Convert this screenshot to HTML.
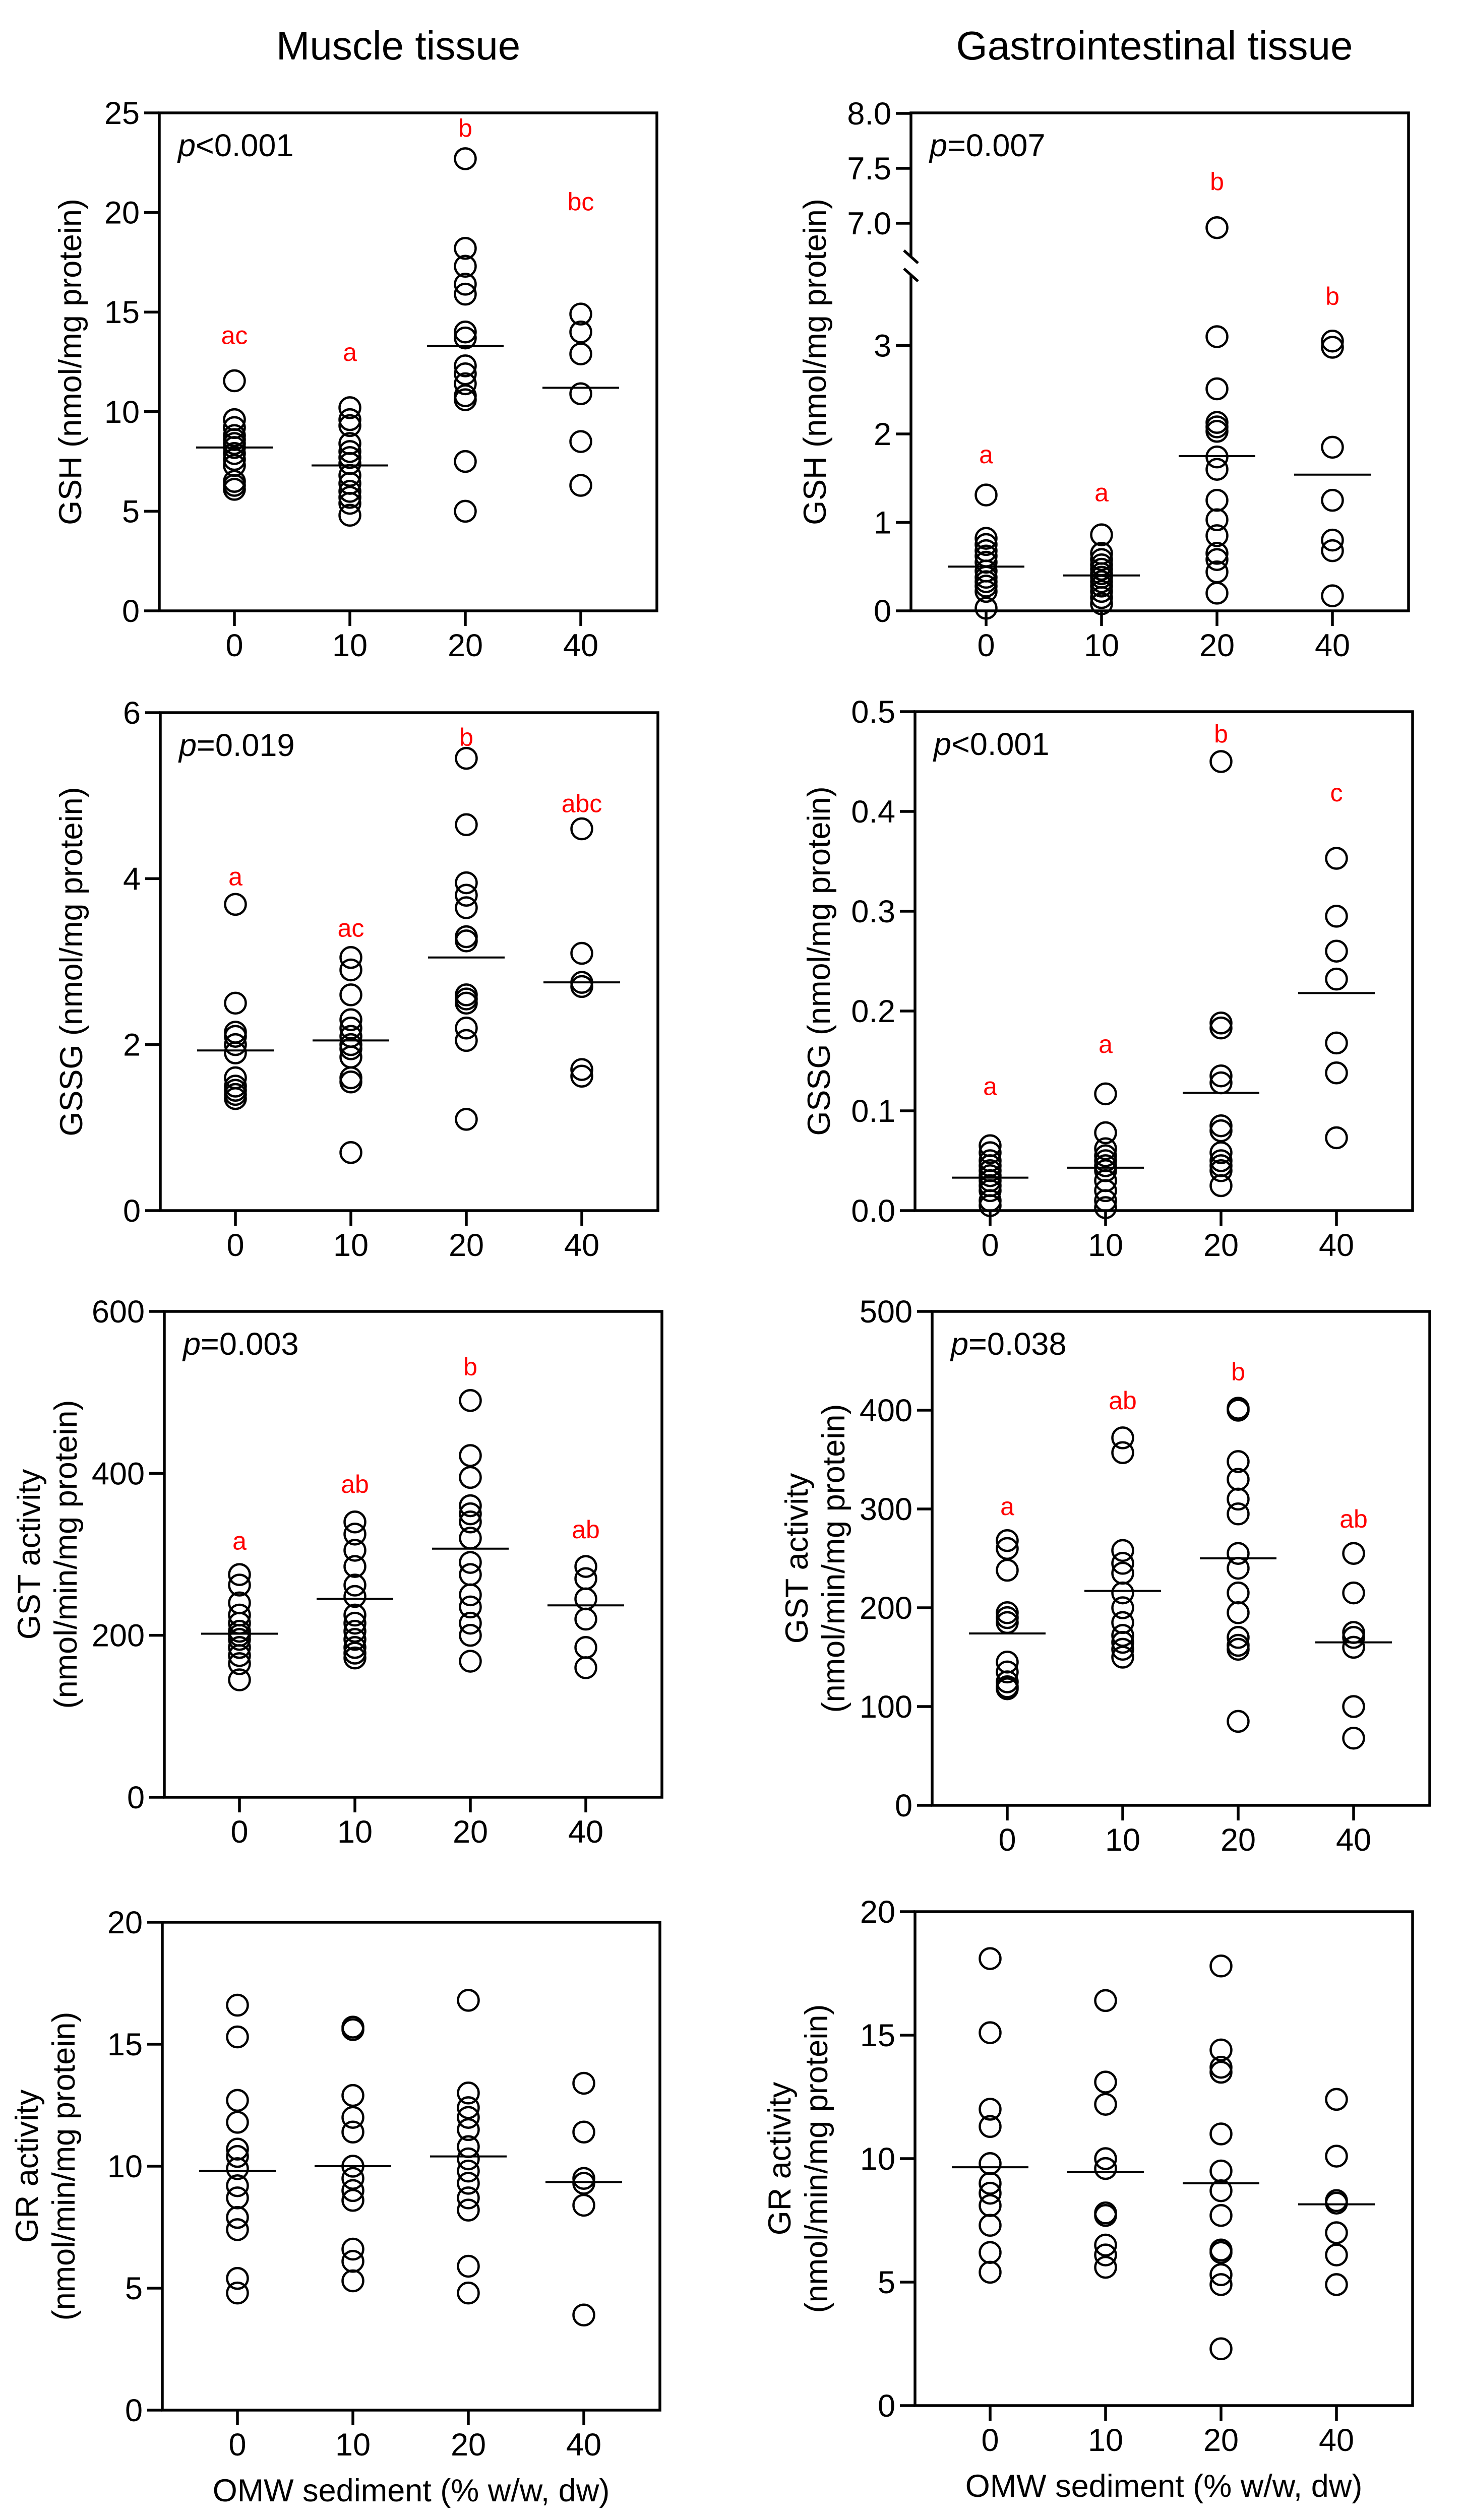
<!DOCTYPE html>
<html><head><meta charset="utf-8">
<style>
html,body{margin:0;padding:0;background:#fff;width:2902px;height:5026px;overflow:hidden;}
svg{display:block;position:absolute;left:0;top:0;}
text{font-family:"Liberation Sans",Arial,sans-serif;}
</style></head>
<body>
<svg id="fig" width="2902" height="5026" viewBox="0 0 2902 5026" xmlns="http://www.w3.org/2000/svg">
<rect x="0" y="0" width="2902" height="5026" fill="#fff"/>
<text x="790" y="118" font-size="80" text-anchor="middle">Muscle tissue</text>
<text x="2290" y="118" font-size="80" text-anchor="middle">Gastrointestinal tissue</text>
</svg>
<script>
const categories = ["0","10","20","40"];

// Muscle GSH
const muscleGshValues = [
 [11.55,9.6,9.2,8.8,8.6,8.4,8.2,7.9,7.6,7.3,6.5,6.3,6.1],
 [10.2,9.6,9.3,8.4,8.0,7.7,7.4,6.8,6.4,6.0,5.7,5.4,4.8],
 [22.7,18.2,17.3,16.4,15.9,14.0,13.7,12.3,11.9,11.4,10.8,10.6,7.5,5.0],
 [14.9,14.0,12.9,10.9,8.5,6.3]];
const muscleGshMeans = [8.2,7.3,13.3,11.2];
const muscleGshLetters = ["ac","a","b","bc"];
const muscleGshLetterAt = [13.4,12.55,23.8,20.1];
const muscleGshTicks = [0,5,10,15,20,25];

// GI GSH (broken axis)
const giGshValues = [
 [1.31,0.82,0.75,0.68,0.62,0.55,0.45,0.38,0.33,0.28,0.22,0.03],
 [0.86,0.65,0.58,0.52,0.47,0.42,0.38,0.33,0.28,0.22,0.15,0.08],
 [6.96,3.1,2.51,2.13,2.08,2.03,1.74,1.6,1.25,1.03,0.85,0.65,0.58,0.44,0.2],
 [3.05,2.98,1.85,1.25,0.8,0.68,0.17]];
const giGshMeans = [0.5,0.4,1.75,1.54];
const giGshLetters = ["a","a","b","b"];
const giGshLetterAt = [1.67,1.24,7.3,3.46];
const giGshTicks = ["0","1","2","3","7.0","7.5","8.0"];

// Muscle GSSG
const muscleGssgValues = [
 [3.69,2.5,2.15,2.1,2.0,1.9,1.6,1.5,1.45,1.4,1.35],
 [3.05,2.9,2.6,2.3,2.2,2.1,2.0,1.95,1.85,1.6,1.55,0.7],
 [5.45,4.65,3.95,3.8,3.65,3.3,3.25,2.6,2.55,2.5,2.2,2.05,1.1],
 [4.6,3.1,2.75,2.7,1.7,1.62]];
const muscleGssgMeans = [1.93,2.05,3.05,2.75];
const muscleGssgLetters = ["a","ac","b","abc"];
const muscleGssgLetterAt = [3.92,3.3,5.6,4.8];
const muscleGssgTicks = [0,2,4,6];

// GI GSSG
const giGssgValues = [
 [0.065,0.058,0.05,0.045,0.04,0.035,0.03,0.025,0.02,0.01,0.005],
 [0.117,0.078,0.062,0.055,0.05,0.045,0.04,0.03,0.02,0.01,0.003],
 [0.45,0.188,0.183,0.135,0.128,0.085,0.08,0.058,0.05,0.045,0.04,0.025],
 [0.353,0.295,0.26,0.232,0.168,0.138,0.073]];
const giGssgMeans = [0.033,0.043,0.118,0.218];
const giGssgLetters = ["a","a","b","c"];
const giGssgLetterAt = [0.116,0.158,0.469,0.41];
const giGssgTicks = ["0.0","0.1","0.2","0.3","0.4","0.5"];

// Muscle GST
const muscleGstValues = [
 [275,262,240,225,215,205,200,195,185,175,165,145],
 [340,325,305,285,262,248,225,215,205,195,185,178,172],
 [490,422,395,360,350,340,320,290,275,250,235,215,200,168],
 [285,270,245,220,185,160]];
const muscleGstMeans = [202,245,307,237];
const muscleGstLetters = ["a","ab","b","ab"];
const muscleGstLetterAt = [306,376,521,320];
const muscleGstTicks = [0,200,400,600];

// GI GST
const giGstValues = [
 [268,260,238,195,190,185,145,135,125,120,118],
 [372,357,258,245,235,215,200,185,172,165,158,150],
 [402,400,348,330,310,295,255,240,215,195,170,162,158,85],
 [255,215,175,170,160,100,68]];
const giGstMeans = [174,217,250,165];
const giGstLetters = ["a","ab","b","ab"];
const giGstLetterAt = [294,401,430,281];
const giGstTicks = [0,100,200,300,400,500];

// Muscle GR
const muscleGrValues = [
 [16.6,15.3,12.7,11.8,10.7,10.4,9.9,9.2,8.7,7.9,7.4,5.4,4.8],
 [15.7,15.6,12.9,12.0,11.4,10.0,9.5,9.0,8.6,6.6,6.1,5.3],
 [16.8,13.0,12.4,12.0,11.5,10.8,10.3,9.8,9.3,8.7,8.2,5.9,4.8],
 [13.4,11.4,9.5,9.3,8.4,3.9]];
const muscleGrMeans = [9.8,10.0,10.4,9.35];
const muscleGrTicks = [0,5,10,15,20];

// GI GR
const giGrValues = [
 [18.1,15.1,12.0,11.3,9.8,9.0,8.6,8.1,7.3,6.2,5.4],
 [16.4,13.1,12.2,10.0,9.6,7.8,7.7,6.5,6.1,5.6],
 [17.8,14.4,13.7,13.5,11.0,9.5,8.7,7.7,6.3,6.2,5.3,4.9,2.3],
 [12.4,10.1,8.3,8.2,7.0,6.1,4.9]];
const giGrMeans = [9.65,9.45,9.0,8.15];
const giGrTicks = [0,5,10,15,20];

const NS = "http://www.w3.org/2000/svg";
const svg = document.getElementById("fig");
function mk(tag, attrs, parent){
  const e = document.createElementNS(NS, tag);
  for (const k in attrs) e.setAttribute(k, attrs[k]);
  (parent||svg).appendChild(e);
  return e;
}

const panels = [
 {id:"muscle-gsh", L:316, T:224, B:1212, min:0, max:25, ticks:muscleGshTicks, vals:muscleGshValues, means:muscleGshMeans, letters:muscleGshLetters, letterAt:muscleGshLetterAt, p:"<0.001", title:["GSH (nmol/mg protein)"], tOff:155},
 {id:"gi-gsh", L:1807, T:224, B:1212, brk:true, ticks:giGshTicks, vals:giGshValues, means:giGshMeans, letters:giGshLetters, letterAt:giGshLetterAt, p:"=0.007", title:["GSH (nmol/mg protein)"], tOff:169},
 {id:"muscle-gssg", L:318, T:1414, B:2402, min:0, max:6, ticks:muscleGssgTicks, vals:muscleGssgValues, means:muscleGssgMeans, letters:muscleGssgLetters, letterAt:muscleGssgLetterAt, p:"=0.019", title:["GSSG (nmol/mg protein)"], tOff:155},
 {id:"gi-gssg", L:1815, T:1412, B:2402, min:0, max:0.5, ticks:giGssgTicks, vals:giGssgValues, means:giGssgMeans, letters:giGssgLetters, letterAt:giGssgLetterAt, p:"<0.001", title:["GSSG (nmol/mg protein)"], tOff:169},
 {id:"muscle-gst", L:326, T:2602, B:3566, min:0, max:600, ticks:muscleGstTicks, vals:muscleGstValues, means:muscleGstMeans, letters:muscleGstLetters, letterAt:muscleGstLetterAt, p:"=0.003", title:["GST activity","(nmol/min/mg protein)"], tOff:174},
 {id:"gi-gst", L:1849, T:2602, B:3582, min:0, max:500, ticks:giGstTicks, vals:giGstValues, means:giGstMeans, letters:giGstLetters, letterAt:giGstLetterAt, p:"=0.038", title:["GST activity","(nmol/min/mg protein)"], tOff:174},
 {id:"muscle-gr", L:322, T:3814, B:4782, min:0, max:20, ticks:muscleGrTicks, vals:muscleGrValues, means:muscleGrMeans, title:["GR activity","(nmol/min/mg protein)"], tOff:174, xtitle:true},
 {id:"gi-gr", L:1815, T:3793, B:4773, min:0, max:20, ticks:giGrTicks, vals:giGrValues, means:giGrMeans, title:["GR activity","(nmol/min/mg protein)"], tOff:174, xtitle:true}
];

panels.forEach(P => {
  const W = 987, R = P.L + W;
  const g = mk("g", {});
  
  
  const yS = P.brk
    ? (v => v >= 5 ? 443 - (v - 7) * 218 : P.B - v * 175.5)
    : (v => P.B - (v - P.min) / (P.max - P.min) * (P.B - P.T));
  const xS = i => P.L + 149 + i * 229;

  if (P.brk) {
    const f1 = mk("path", {d:`M${P.L},508 L${P.L},${P.T} L${R},${P.T} L${R},${P.B} L${P.L},${P.B} L${P.L},545`, fill:"none", stroke:"#000","stroke-width":5.5}, g);
    
    
    [[497,522],[533,558]].forEach(s => {
      const b = mk("line", {x1:P.L-14, y1:s[0], x2:P.L+14, y2:s[1], stroke:"#000","stroke-width":5.5}, g);
      
      
    });
  } else {
    const f = mk("rect", {x:P.L, y:P.T, width:W, height:P.B-P.T, fill:"none", stroke:"#000","stroke-width":5.5}, g);
    
    
  }
  P.ticks.forEach(t => {
    const v = parseFloat(t);
    const y = yS(v);
    const tl = mk("line", {x1:P.L-30, y1:y, x2:P.L, y2:y, stroke:"#000","stroke-width":5.5}, g);
    
    
    const tx = mk("text", {x:P.L-39, y:y+22, "font-size":63, "text-anchor":"end"}, g);
    tx.textContent = String(t);
    
    
  });
  categories.forEach((c, i) => {
    const x = xS(i);
    const tl = mk("line", {x1:x, y1:P.B, x2:x, y2:P.B+30, stroke:"#000","stroke-width":5.5}, g);
    
    
    const tx = mk("text", {x:x, y:P.B+90, "font-size":63, "text-anchor":"middle"}, g);
    tx.textContent = c;
    
    
  });
  const cy = (P.T + P.B) / 2;
  if (P.title.length === 1) {
    const bx = P.L - P.tOff;
    const t = mk("text", {x:bx, y:cy, "font-size":63, "text-anchor":"middle", transform:`rotate(-90 ${bx} ${cy})`}, g);
    t.textContent = P.title[0];
    
    
  } else {
    P.title.forEach((line, k) => {
      const bx = P.L - P.tOff - (1 - k) * 73;
      const t = mk("text", {x:bx, y:cy, "font-size":63, "text-anchor":"middle", transform:`rotate(-90 ${bx} ${cy})`}, g);
      t.textContent = line;
      
      
    });
  }
  if (P.p) {
    const t = mk("text", {x:P.L+37, y:P.T+86, "font-size":63}, g);
    
    
    const ts = mk("tspan", {"font-style":"italic"}, t);
    ts.textContent = "p";
    const ts2 = mk("tspan", {}, t);
    ts2.textContent = P.p;
  }
  P.vals.forEach((arr, i) => {
    arr.forEach(v => {
      const c = mk("circle", {cx:xS(i), cy:yS(v), r:20.5, fill:"none", stroke:"#000","stroke-width":4.5}, g);
      
      
    });
  });
  P.means.forEach((m, i) => {
    const y = yS(m);
    const l = mk("line", {x1:xS(i)-76, y1:y, x2:xS(i)+76, y2:y, stroke:"#000","stroke-width":4}, g);
    
    
  });
  if (P.letters) {
    P.letters.forEach((s, i) => {
      const t = mk("text", {x:xS(i), y:yS(P.letterAt[i]), "font-size":50, fill:"#ff0000", "text-anchor":"middle"}, g);
      t.textContent = s;
      
      
    });
  }
  if (P.xtitle) {
    const t = mk("text", {x:P.L + W/2, y:P.B+181, "font-size":63, "text-anchor":"middle"}, g);
    t.textContent = "OMW sediment (% w/w, dw)";
    
    
  }
});
</script>
</body></html>
